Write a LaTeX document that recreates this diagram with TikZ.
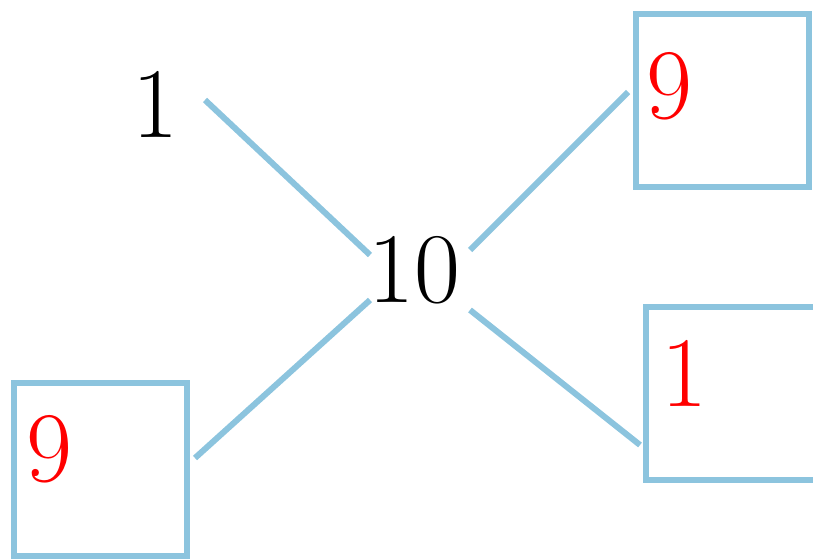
\documentclass[tikz,border=0pt]{standalone}
\usepackage{tikz}
\usetikzlibrary{positioning}
\definecolor{lineblue}{RGB}{140,196,222}
\tikzset{
  wire/.style={draw=lineblue, line width=6pt},
  cell/.style={draw=lineblue, line width=6pt, minimum size=173pt, inner sep=0pt},
  num/.style={inner sep=0pt, font=\fontsize{100}{100}\selectfont},
  rednum/.style={num, text=red}}

\begin{document}
\begin{tikzpicture}[x=1pt,y=-1pt]
	\useasboundingbox (0,0) rectangle (813,559);
	\node[cell] (boxtr) at (722.5,100.5) {};
	\node[cell] (boxr) at (732.5,393) {};
	\node[cell] (boxbl) at (100,469) {};
	\node[num] (ten) at (414,270) {10};
	\node[num] (one) at (155,104) {1};
	\node[rednum] (ninetr) at (669,86) {9};
	\node[rednum] (oner) at (684,373) {1};
	\node[rednum] (ninebl) at (49,449) {9};
	\coordinate (a1) at (205,100);
	\coordinate (a2) at (370,255);
	\coordinate (b1) at (470,250);
	\coordinate (b2) at (628,92);
	\coordinate (c1) at (195,458);
	\coordinate (c2) at (370,300);
	\coordinate (d1) at (470,310);
	\coordinate (d2) at (640,445);
% the four spokes round the middle value
\draw[wire] (a1) -- (a2);\draw[wire] (b1) -- (b2);
\draw[wire] (c1) -- (c2);\draw[wire] (d1) -- (d2);
\end{tikzpicture}
\end{document}
